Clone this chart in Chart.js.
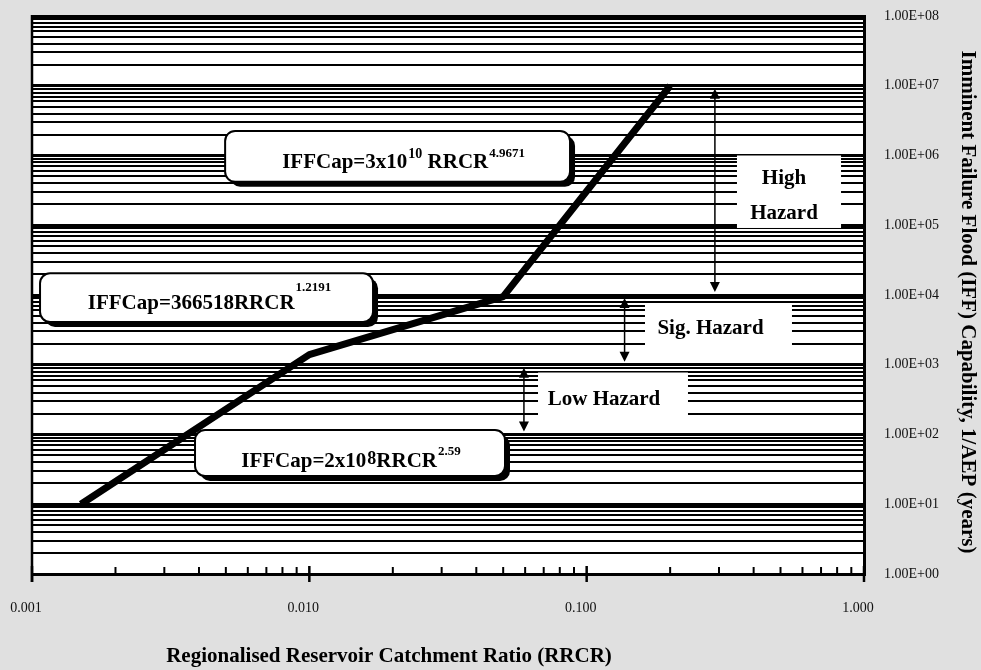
<!DOCTYPE html>
<html>
<head>
<meta charset="utf-8">
<script src="https://cdn.jsdelivr.net/npm/chart.js@4/dist/chart.umd.min.js"></script>
<style>
  html, body { margin: 0; padding: 0; background: #e0e0e0; }
  #wrap { width: 981px; height: 670px; position: relative; }
  canvas { display: block; }
</style>
</head>
<body>
<div id="wrap"><canvas id="c" width="981" height="670"></canvas></div>
<script>
// ---------------- data ----------------
const rrcr = [0.0015, 0.01, 0.05, 0.2];
const iffCap = [10, 1400, 9500, 1.0e7];

const xDecades = [0.001, 0.01, 0.1, 1];
const xTickLabels = ['0.001', '0.010', '0.100', '1.000'];
const yDecades = [1, 10, 100, 1e3, 1e4, 1e5, 1e6, 1e7, 1e8];
const yTickLabels = ['1.00E+00', '1.00E+01', '1.00E+02', '1.00E+03', '1.00E+04',
                     '1.00E+05', '1.00E+06', '1.00E+07', '1.00E+08'];
const minorMultipliers = [2, 3, 4, 5, 6, 7, 8, 9];

const xTitle = 'Regionalised Reservoir Catchment Ratio (RRCR)';
const yTitle = 'Imminent Failure Flood (IFF) Capability, 1/AEP (years)';

// hazard ranges (IFF capability bounds) and where the arrows sit on RRCR axis
const hazardArrowX = [0.29, 0.137, 0.0594];
const hazardArrowFrom = [1e7, 1e4, 1e3];
const hazardArrowTo = [1e4, 1e3, 1e2];

// ---------------- helpers ----------------
const SERIF = '"Liberation Serif", "Times New Roman", Times, serif';
function isDecade(v) {
  const l = Math.log10(v);
  return Math.abs(l - Math.round(l)) < 1e-9;
}
function allLogTicks(decades) {
  const out = [];
  decades.forEach((d, i) => {
    out.push(d);
    if (i < decades.length - 1) minorMultipliers.forEach(m => out.push(d * m));
  });
  return out;
}
function roundRectPath(ctx, x, y, w, h, r) {
  ctx.beginPath();
  ctx.moveTo(x + r, y);
  ctx.arcTo(x + w, y, x + w, y + h, r);
  ctx.arcTo(x + w, y + h, x, y + h, r);
  ctx.arcTo(x, y + h, x, y, r);
  ctx.arcTo(x, y, x + w, y, r);
  ctx.closePath();
}

// equation boxes: box corners in data space, text runs
const eqBoxes = [
  { x0: 0.00497, x1: 0.0871, yTop: 2.25e6, yBot: 4.2e5, dx: 6, base: 37,
    runs: [['IFFCap=3x10', 0, 0], ['10', 14, 10], [' RRCR', 0, 0], ['4.9671', 13, 11]] },
  { x0: 0.001069, x1: 0.01697, yTop: 20500, yBot: 4100, dx: 3, base: 36,
    runs: [['IFFCap=366518RRCR', 0, 0], ['1.2191', 13, 18]] },
  { x0: 0.003871, x1: 0.05076, yTop: 116, yBot: 25.5, dx: 1, base: 37,
    runs: [['IFFCap=2x10', 0, 0], ['8', 18, 3], ['RRCR', 0, 0], ['2.59', 13, 12]] }
];
const hazardBoxes = [
  { x0: 0.3483, x1: 0.8264, yTop: 1.0e6, yBot: 91400, dx: -5, lines: ['High', 'Hazard'], base: [28, 63] },
  { x0: 0.1623, x1: 0.5499, yTop: 7500, yBot: 1524, dx: -8, lines: ['Sig. Hazard'], base: [30] },
  { x0: 0.06677, x1: 0.2319, yTop: 774, yBot: 172.5, dx: -9, lines: ['Low Hazard'], base: [32] }
];

const decorations = {
  id: 'decorations',
  beforeDraw(chart) {
    const { ctx, chartArea: a } = chart;
    ctx.save();
    ctx.fillStyle = '#e0e0e0';
    ctx.fillRect(0, 0, chart.width, chart.height);
    ctx.fillStyle = '#ffffff';
    ctx.fillRect(a.left, a.top, a.right - a.left, a.bottom - a.top);
    ctx.restore();
  },
  beforeDatasetsDraw(chart) {
    const { ctx, chartArea: a } = chart;
    const xs = chart.scales.x, ys = chart.scales.y;
    ctx.save();
    // left frame line
    ctx.strokeStyle = '#000';
    ctx.lineWidth = 2.5;
    ctx.beginPath();
    ctx.moveTo(a.left, a.top - 1);
    ctx.lineTo(a.left, a.bottom + 8);
    ctx.stroke();
    // x ticks: major crossing the axis, minor inside
    xDecades.forEach((d, i) => {
      const px = xs.getPixelForValue(d);
      ctx.lineWidth = 2.5;
      ctx.beginPath();
      ctx.moveTo(px, a.bottom - 8);
      ctx.lineTo(px, a.bottom + 8);
      ctx.stroke();
      if (i < xDecades.length - 1) {
        minorMultipliers.forEach(m => {
          const p = xs.getPixelForValue(d * m);
          ctx.lineWidth = 2;
          ctx.beginPath();
          ctx.moveTo(p, a.bottom - 7);
          ctx.lineTo(p, a.bottom);
          ctx.stroke();
        });
      }
    });

    // hazard label boxes (plain white)
    hazardBoxes.forEach(b => {
      const x0 = xs.getPixelForValue(b.x0), x1 = xs.getPixelForValue(b.x1);
      const y0 = ys.getPixelForValue(b.yTop), y1 = ys.getPixelForValue(b.yBot);
      ctx.fillStyle = '#fff';
      ctx.fillRect(x0, y0, x1 - x0, y1 - y0);
      ctx.fillStyle = '#000';
      ctx.font = 'bold 21px ' + SERIF;
      ctx.textAlign = 'center';
      ctx.textBaseline = 'alphabetic';
      b.lines.forEach((t, i) => ctx.fillText(t, (x0 + x1) / 2 + b.dx, y0 + b.base[i]));
    });

    // equation boxes with shadow
    eqBoxes.forEach(b => {
      const x0 = xs.getPixelForValue(b.x0), x1 = xs.getPixelForValue(b.x1);
      const y0 = ys.getPixelForValue(b.yTop), y1 = ys.getPixelForValue(b.yBot);
      const w = x1 - x0, h = y1 - y0;
      ctx.fillStyle = '#000';
      roundRectPath(ctx, x0 + 5, y0 + 5, w, h, 10);
      ctx.fill();
      ctx.fillStyle = '#fff';
      roundRectPath(ctx, x0, y0, w, h, 10);
      ctx.fill();
      ctx.strokeStyle = '#000';
      ctx.lineWidth = 2;
      ctx.stroke();
      // text runs
      ctx.textAlign = 'left';
      ctx.textBaseline = 'alphabetic';
      let total = 0;
      const widths = b.runs.map(r => {
        ctx.font = 'bold ' + (r[1] || 21) + 'px ' + SERIF;
        const wd = ctx.measureText(r[0]).width + (r[1] ? 1 : 0);
        total += wd;
        return wd;
      });
      let tx = (x0 + x1) / 2 + b.dx - total / 2;
      const by = y0 + b.base;
      ctx.fillStyle = '#000';
      b.runs.forEach((r, i) => {
        ctx.font = 'bold ' + (r[1] || 21) + 'px ' + SERIF;
        ctx.fillText(r[0], tx + (r[1] ? 1 : 0), by - r[2]);
        tx += widths[i];
      });
    });

    // double-headed arrows
    ctx.strokeStyle = '#000';
    ctx.fillStyle = '#000';
    hazardArrowX.forEach((xv, i) => {
      const px = xs.getPixelForValue(xv);
      const yA = ys.getPixelForValue(hazardArrowFrom[i]) + 3;
      const yB = ys.getPixelForValue(hazardArrowTo[i]) - 3;
      ctx.lineWidth = 1.5;
      ctx.beginPath();
      ctx.moveTo(px, yA + 8);
      ctx.lineTo(px, yB - 8);
      ctx.stroke();
      ctx.beginPath();
      ctx.moveTo(px, yA); ctx.lineTo(px - 5, yA + 10); ctx.lineTo(px + 5, yA + 10); ctx.closePath();
      ctx.fill();
      ctx.beginPath();
      ctx.moveTo(px, yB); ctx.lineTo(px - 5, yB - 10); ctx.lineTo(px + 5, yB - 10); ctx.closePath();
      ctx.fill();
    });
    ctx.restore();
  },
  afterDraw(chart) {
    const { ctx, chartArea: a } = chart;
    ctx.save();
    ctx.fillStyle = '#000';
    ctx.font = 'bold 21px ' + SERIF;
    ctx.textAlign = 'center';
    ctx.textBaseline = 'alphabetic';
    ctx.fillText(xTitle, a.left + 357, a.bottom + 88);
    ctx.translate(a.right + 98, a.top + 286);
    ctx.rotate(Math.PI / 2);
    ctx.fillText(yTitle, 0, 0);
    ctx.restore();
  }
};

new Chart(document.getElementById('c'), {
  type: 'scatter',
  data: {
    datasets: [{
      data: rrcr.map((x, i) => ({ x: x, y: iffCap[i] })),
      showLine: true,
      borderColor: '#000',
      borderWidth: 7,
      pointRadius: 0,
      tension: 0,
      borderJoinStyle: 'round',
      borderCapStyle: 'butt',
      fill: false
    }]
  },
  options: {
    responsive: false,
    animation: false,
    devicePixelRatio: 1,
    layout: { padding: { left: 32, top: 16, right: 0, bottom: 0 } },
    plugins: { legend: { display: false }, tooltip: { enabled: false } },
    scales: {
      x: {
        type: 'logarithmic',
        position: 'bottom',
        min: 0.001,
        max: 1,
        afterBuildTicks: s => { s.ticks = xDecades.map(v => ({ value: v })); },
        afterFit: s => { s.height = 96; },
        ticks: {
          autoSkip: false,
          maxRotation: 0,
          padding: 0,
          labelOffset: -6,
          color: '#111',
          font: { family: SERIF, size: 14 },
          callback: (v) => {
            const i = xDecades.findIndex(d => Math.abs(d - v) < d * 1e-6);
            return i >= 0 ? xTickLabels[i] : '';
          }
        },
        grid: { display: true, drawOnChartArea: false, drawTicks: true, tickLength: 26, tickColor: 'rgba(0,0,0,0)' },
        border: { display: true, color: '#000', width: 3 }
      },
      y: {
        type: 'logarithmic',
        position: 'right',
        min: 1,
        max: 1e8,
        afterBuildTicks: s => { s.ticks = allLogTicks(yDecades).map(v => ({ value: v })); },
        afterFit: s => { s.width = 117; },
        ticks: {
          autoSkip: false,
          padding: 0,
          color: '#111',
          font: { family: SERIF, size: 14 },
          callback: (v) => {
            const i = yDecades.findIndex(d => Math.abs(d - v) < d * 1e-6);
            return i >= 0 ? yTickLabels[i] : '';
          }
        },
        grid: {
          color: '#000',
          drawTicks: true,
          tickLength: 20,
          tickColor: 'rgba(0,0,0,0)',
          lineWidth: ctx => (ctx.tick && isDecade(ctx.tick.value)) ? 3 : 2
        },
        border: { display: true, color: '#000', width: 3 }
      }
    }
  },
  plugins: [decorations]
});
</script>
</body>
</html>
